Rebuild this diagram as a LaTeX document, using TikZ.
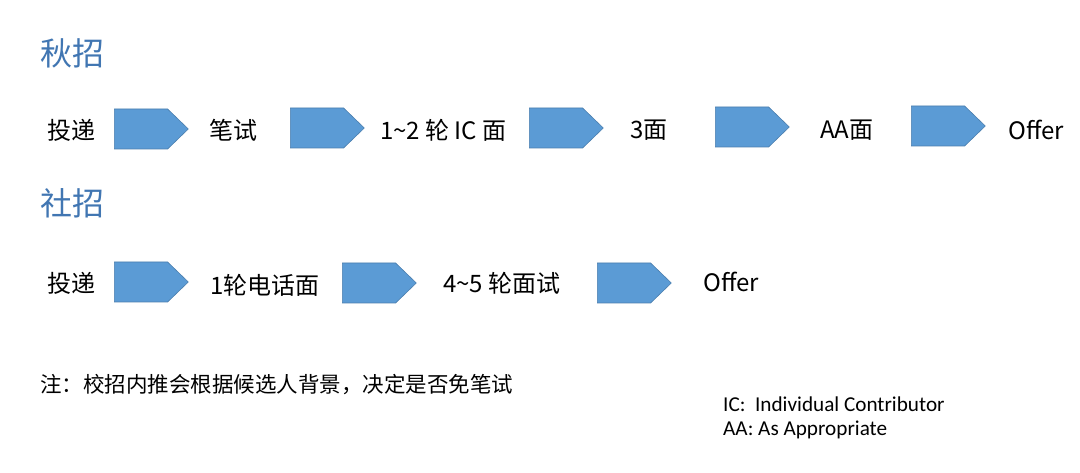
\documentclass[tikz,border=0pt]{standalone}
\usepackage{fontspec}
\usetikzlibrary{shapes.symbols}
\newfontfamily\cjk{Noto Sans CJK SC}
\newfontfamily\latinnote{Carlito}
\definecolor{stepblue}{HTML}{5B9BD5}
\definecolor{stepedge}{HTML}{4A7EAE}
\definecolor{headblue}{HTML}{4176B2}
\tikzset{
  chevron/.style={shape=signal, signal to=east, signal pointer angle=88,
    minimum width=74pt, minimum height=40pt, inner sep=0pt, anchor=west,
    fill=stepblue, draw=stepedge, line width=0.6pt},
  label/.style={font=\cjk\fontsize{24}{28}\selectfont, inner sep=0pt, anchor=west},
  heading/.style={font=\cjk\fontsize{32}{36}\selectfont, text=headblue, inner sep=0pt, anchor=west},
  footnote/.style={font=\latinnote\fontsize{21.2}{24}\selectfont, inner sep=0pt, anchor=west},
}
\begin{document}
\begin{tikzpicture}[x=1pt,y=-1pt]
\useasboundingbox[fill=white] (0,0) rectangle (1080,473);

% autumn campus recruiting
\node[heading] (h1) at (40,53) {秋招};
\node[label] (a0) at (47,130) {投递};
\node[chevron] (s1) at (114,129) {};
\node[label] (a1) at (209,130) {笔试};
\node[chevron] (s2) at (290,128) {};
\node[label] (a2) at (380,130) {1\textasciitilde2 轮 IC 面};
\node[chevron] (s3) at (529,128) {};
\node[label] (a3) at (630,130) {3面};
\node[chevron] (s4) at (715,127) {};
\node[label] (a4) at (820,130) {AA面};
\node[chevron] (s5) at (911,126) {};
\node[label] (a5) at (1008,130) {Offer};

% experienced hire recruiting
\node[heading] (h2) at (40,203) {社招};
\node[label] (b0) at (47,283) {投递};
\node[chevron] (t1) at (114,282) {};
\node[label] (b1) at (210,285) {1轮电话面};
\node[chevron] (t2) at (342,283) {};
\node[label] (b2) at (443,283) {4\textasciitilde5 轮面试};
\node[chevron] (t3) at (597,283) {};
\node[label] (b3) at (703,282) {Offer};

% footnotes
\node[font=\cjk\fontsize{21.5}{24}\selectfont, inner sep=0pt, anchor=west] (note) at (40,385) {注：校招内推会根据候选人背景，决定是否免笔试};
\node[footnote] (ic) at (723,404) {IC:\ \ Individual Contributor};
\node[footnote] (aa) at (723,430) {AA: As Appropriate};
\end{tikzpicture}
\end{document}
